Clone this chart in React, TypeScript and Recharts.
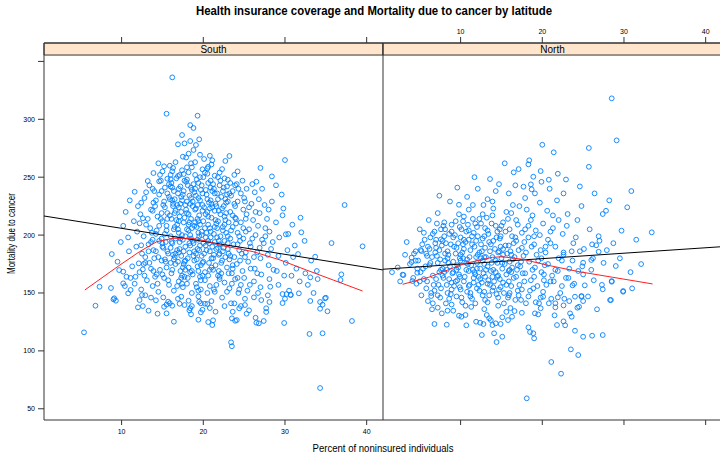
import {
  ReferenceArea,
  Scatter,
  ScatterChart,
  XAxis,
  YAxis,
} from 'recharts'

type Pt = [number, number]

const xTicks = [10, 20, 30, 40]
const yTicks = [50, 100, 150, 200, 250, 300, 350]
const X_DOMAIN: [number, number] = [0.5, 42]
// upper part of the y range is taken by the strip
const Y_DOMAIN: [number, number] = [40.3, 365.9]
const STRIP_FROM = 355.5

// South: scattered counties away from the main cloud
const southOuter: Pt[] = [
  [16.2, 336.2], [15.5, 304.8], [19.3, 303.1], [18.4, 295.0], [18.8, 292.5], [17.4, 286.4],
  [19.5, 282.7], [18.4, 281.2], [17.7, 279.2], [16.9, 278.4], [19.1, 277.8], [18.8, 273.5],
  [18.2, 270.3], [17.5, 267.7], [19.6, 269.4], [20.8, 268.5], [23.2, 268.3], [22.7, 264.0],
  [30.0, 264.8], [21.1, 264.6], [20.1, 265.7], [15.2, 259.4], [15.9, 259.9], [18.0, 258.5],
  [18.6, 258.5], [19.9, 256.8], [20.5, 257.6], [16.2, 255.1], [13.9, 253.6], [17.1, 251.9],
  [17.6, 252.7], [18.2, 254.2], [21.4, 251.3], [20.5, 253.0], [23.0, 247.8], [28.4, 250.7],
  [26.5, 246.1], [13.2, 246.7], [14.6, 246.4], [15.6, 248.7], [16.0, 248.2],
  [11.6, 237.4], [37.3, 226.0], [39.5, 190.3], [35.7, 193.1], [31.9, 215.0], [32.0, 202.4],
  [33.7, 181.3], [36.9, 166.1], [36.8, 161.2], [33.9, 169.0], [31.6, 183.6], [30.1, 200.7],
  [29.7, 217.1], [35.0, 145.9], [33.1, 163.5], [30.8, 164.9], [30.7, 148.2], [28.2, 155.4],
  [8.8, 183.6], [9.7, 169.8], [10.2, 168.4], [7.3, 155.4], [8.7, 154.3], [10.2, 158.3],
  [11.1, 152.6], [9.1, 145.4], [10.6, 164.0], [11.7, 164.0], [12.6, 170.4], [12.1, 175.6],
  [12.4, 191.2], [12.2, 210.2], [12.6, 214.5],
  [5.4, 116.0], [6.8, 139.0], [9.0, 144.5], [9.3, 143.3], [10.8, 149.7], [12.0, 137.6],
  [12.6, 138.7], [12.2, 143.9], [12.5, 148.2], [12.9, 148.0], [13.3, 134.7], [14.2, 143.7],
  [14.4, 132.1], [15.2, 138.1], [15.1, 146.2], [15.5, 132.4], [15.7, 142.5], [15.9, 141.1],
  [16.2, 139.0], [16.4, 125.2], [17.1, 140.7], [17.3, 146.8], [17.7, 139.6], [18.2, 143.3],
  [18.4, 136.8], [18.6, 138.7], [18.5, 131.6], [19.4, 126.9], [19.7, 141.1], [20.2, 140.7],
  [20.5, 140.5], [19.9, 135.5], [19.7, 133.3], [19.5, 142.5], [20.6, 124.9], [21.2, 126.4],
  [21.1, 122.3], [21.5, 133.8], [22.6, 138.7], [23.4, 141.1], [23.6, 133.8], [24.1, 126.6],
  [23.9, 126.0], [23.5, 128.1], [23.4, 107.4], [23.5, 104.0], [24.4, 136.8], [24.6, 138.7],
  [25.1, 139.6], [25.3, 132.1], [26.2, 146.2], [27.1, 143.9], [28.1, 142.2], [27.7, 136.8],
  [27.7, 133.6], [26.4, 128.6], [26.5, 124.3], [26.8, 123.8], [27.4, 125.8], [29.7, 141.3],
  [29.9, 124.1], [29.7, 149.1], [30.2, 149.1], [30.7, 148.5], [31.7, 149.7], [33.1, 143.1],
  [33.0, 114.6], [34.3, 142.2], [34.6, 139.9], [34.9, 145.4], [34.3, 136.4], [35.2, 134.2],
  [34.6, 115.2], [34.3, 67.9], [38.2, 125.8],
]

// South: main cloud
const southCore: Pt[] = [
  [13.4, 243], [14.8, 247], [15.3, 241], [16.1, 245], [16.7, 249], [17.2, 242], [17.9, 246],
  [18.5, 241], [19.2, 248], [19.8, 243], [20.6, 245], [21.3, 240], [22.1, 247], [22.9, 242],
  [24.1, 244], [25.3, 240], [16.4, 238], [18.9, 237], [21.7, 236], [23.6, 238],
  [12.8, 232], [13.9, 228], [14.6, 235], [15.2, 229], [15.8, 233], [16.3, 227], [16.9, 236],
  [17.4, 230], [17.8, 226], [18.3, 234], [18.7, 229], [19.4, 232], [19.9, 226], [20.4, 235],
  [20.9, 230], [21.5, 227], [22.2, 233], [22.8, 228], [23.4, 234], [24.2, 229], [25.0, 232],
  [25.9, 227], [26.8, 231], [27.5, 226], [14.1, 225], [17.0, 224], [19.1, 223], [21.1, 224],
  [23.9, 225], [28.4, 229],
  [12.3, 218], [13.2, 214], [13.8, 221], [14.4, 216], [15.0, 212], [15.6, 219], [16.1, 214],
  [16.6, 221], [17.1, 216], [17.6, 211], [18.0, 219], [18.5, 214], [19.0, 222], [19.5, 217],
  [20.0, 212], [20.5, 220], [21.0, 215], [21.6, 210], [22.1, 218], [22.7, 213], [23.3, 220],
  [23.9, 215], [24.6, 211], [25.3, 218], [26.1, 213], [26.9, 219], [27.8, 214], [28.9, 211],
  [15.3, 224], [18.2, 209], [20.8, 223], [24.9, 222], [11.5, 212],
  [11.9, 203], [12.7, 199], [13.5, 206], [14.2, 201], [14.9, 197], [15.5, 204], [16.0, 199],
  [16.5, 207], [17.0, 202], [17.5, 196], [18.0, 205], [18.4, 200], [18.9, 208], [19.3, 196],
  [19.8, 203], [20.3, 198], [20.8, 206], [21.3, 201], [21.9, 195], [22.4, 204], [23.0, 199],
  [23.6, 207], [24.2, 202], [24.9, 197], [25.6, 205], [26.4, 200], [27.2, 196], [28.1, 203],
  [29.3, 198], [30.4, 201], [16.8, 209], [19.6, 209], [22.6, 209], [14.6, 208], [10.8, 198],
  [10.9, 186], [11.8, 190], [12.5, 184], [13.3, 192], [13.9, 187], [14.5, 181], [15.1, 189],
  [15.7, 184], [16.2, 193], [16.8, 187], [17.3, 182], [17.8, 190], [18.3, 185], [18.8, 193],
  [19.3, 188], [19.8, 182], [20.3, 191], [20.8, 186], [21.4, 194], [21.9, 183], [22.5, 189],
  [23.1, 184], [23.7, 192], [24.4, 187], [25.1, 181], [25.8, 190], [26.6, 185], [27.4, 193],
  [28.3, 188], [29.2, 182], [30.3, 187], [31.2, 191], [15.4, 194], [18.1, 180], [21.2, 180],
  [11.3, 173], [12.2, 168], [12.9, 176], [13.6, 171], [14.3, 166], [14.9, 178], [15.5, 172],
  [16.1, 167], [16.6, 175], [17.2, 169], [17.7, 177], [18.2, 172], [18.7, 166], [19.2, 179],
  [19.7, 174], [20.2, 168], [20.7, 176], [21.2, 170], [21.8, 165], [22.3, 178], [22.9, 172],
  [23.5, 167], [24.1, 175], [24.8, 169], [25.5, 177], [26.3, 171], [27.1, 166], [28.0, 174],
  [29.0, 169], [30.1, 176], [31.4, 171], [32.5, 167], [16.4, 179], [19.9, 165], [23.2, 179],
  [11.6, 158], [12.4, 153], [13.1, 161], [13.8, 156], [14.5, 151], [15.2, 163], [15.8, 157],
  [16.4, 152], [17.0, 160], [17.5, 155], [18.1, 163], [18.6, 150], [19.1, 158], [19.7, 153],
  [20.2, 161], [20.8, 156], [21.4, 151], [22.0, 164], [22.6, 159], [23.2, 154], [23.9, 162],
  [24.6, 157], [25.4, 152], [26.2, 160], [27.0, 155], [28.1, 162], [29.2, 157], [30.5, 152],
  [31.8, 160], [14.1, 164], [17.7, 164], [20.5, 150], [24.3, 150],
  [16.2, 241], [17.6, 238], [18.8, 244], [19.7, 239], [20.9, 241], [22.4, 238], [15.9, 231],
  [17.3, 233], [18.4, 227], [19.6, 230], [20.7, 228], [21.8, 231], [22.9, 235], [16.5, 219],
  [17.9, 222], [19.3, 214], [20.3, 218], [21.4, 221], [22.6, 216], [16.9, 205], [18.3, 211],
  [19.4, 202], [20.6, 209], [21.7, 206], [23.1, 211], [17.1, 194], [18.5, 197], [19.6, 191],
  [20.9, 198], [22.0, 192], [23.3, 197], [16.3, 183], [17.6, 186], [18.9, 178], [20.1, 184],
  [21.6, 188], [22.7, 181], [17.8, 170], [19.3, 173], [20.6, 165], [21.9, 169],
  [15.0, 255], [17.4, 256], [20.2, 254], [21.8, 250], [23.8, 252], [19.0, 252], [16.0, 252],
  [24.8, 247], [26.0, 244], [13.0, 237], [27.2, 240], [29.6, 235], [28.0, 222], [29.8, 223],
  [30.9, 209], [27.6, 206], [32.4, 195], [33.2, 178], [31.0, 181], [29.9, 165], [32.8, 157],
  [34.0, 162], [33.5, 150], [11.0, 230], [10.5, 220], [12.0, 225], [10.2, 208], [9.9, 194],
  [9.5, 177], [11.1, 163], [10.4, 156], [13.6, 146], [16.9, 145], [19.4, 147], [22.3, 146],
  [25.1, 145], [27.9, 148], [30.0, 145], [15.5, 140], [21.0, 143], [23.8, 141], [18.3, 135],
  [20.8, 137], [25.6, 135],
  [14.0, 238], [15.6, 236], [17.0, 240], [18.1, 243], [19.4, 245], [20.3, 239], [21.2, 244],
  [22.5, 241], [23.3, 245], [24.6, 236], [13.6, 222], [14.9, 219], [16.3, 225], [17.3, 220],
  [18.7, 225], [19.9, 221], [21.0, 227], [22.3, 223], [23.6, 217], [25.6, 224], [13.0, 209],
  [14.3, 204], [15.5, 208], [16.7, 213], [17.8, 199], [19.0, 211], [20.2, 206], [21.5, 213],
  [22.8, 202], [24.0, 210], [25.2, 214], [26.7, 208], [13.8, 196], [15.0, 193], [16.0, 189],
  [17.2, 197], [18.4, 191], [19.5, 199], [20.7, 193], [21.7, 198], [23.0, 193], [24.5, 195],
  [26.0, 197], [28.5, 194], [12.9, 181], [14.2, 186], [15.3, 179], [16.6, 184], [17.8, 178],
  [18.9, 186], [20.0, 177], [21.3, 183], [22.4, 186], [23.8, 181], [25.2, 185], [27.0, 180],
  [13.4, 176], [14.7, 170], [16.0, 176], [17.4, 165], [18.6, 169], [19.7, 161], [21.0, 172],
  [22.2, 167], [23.6, 171], [25.0, 163], [26.6, 167], [28.6, 170], [12.8, 165], [14.4, 158],
  [15.7, 161], [16.8, 156], [18.0, 158], [19.4, 152], [21.6, 157], [22.9, 151], [24.4, 153],
  [26.7, 150], [16.5, 231], [19.1, 234], [21.4, 236], [23.0, 229], [17.7, 247], [20.0, 250],
  [14.2, 230], [26.3, 237], [28.9, 243], [27.0, 258], [24.2, 255], [21.0, 261], [22.3, 257],
  [16.6, 263], [14.5, 262], [19.0, 263],
]

// South: the crowded middle of the cloud
const southDense: Pt[] = [
  [14.7, 252], [15.8, 244], [16.9, 251], [18.0, 248], [19.6, 250], [20.9, 247], [22.6, 249],
  [23.9, 243], [14.9, 238], [16.0, 242], [17.5, 235], [18.6, 239], [19.9, 236], [21.1, 238],
  [22.0, 243], [23.2, 236], [24.3, 240], [15.1, 226], [16.2, 230], [17.2, 227], [18.5, 232],
  [19.3, 226], [20.5, 231], [21.6, 225], [22.7, 231], [23.8, 227], [14.8, 214], [15.9, 217],
  [17.0, 212], [18.2, 218], [19.4, 212], [20.6, 216], [21.8, 212], [22.8, 219], [24.0, 214],
  [15.3, 201], [16.4, 205], [17.4, 200], [18.6, 206], [19.8, 200], [20.9, 203], [22.1, 199],
  [23.4, 204], [24.4, 199], [15.0, 190], [16.1, 194], [17.1, 188], [18.3, 193], [19.5, 187],
  [20.6, 195], [21.8, 189], [23.0, 188], [24.2, 192], [15.4, 177], [16.5, 181], [17.6, 175],
  [18.8, 182], [19.9, 176], [21.0, 180], [22.2, 176], [23.3, 182], [24.5, 178], [15.0, 166],
  [16.2, 170], [17.3, 163], [18.4, 168], [19.6, 164], [20.8, 170], [22.0, 162], [23.1, 167],
  [24.2, 163], [16.8, 226], [18.0, 229], [20.1, 224], [21.9, 221], [17.7, 215], [19.2, 207],
  [20.4, 202], [22.4, 207], [16.6, 197], [18.7, 195], [21.1, 190], [22.6, 195], [17.0, 185],
  [19.1, 184], [20.4, 187], [22.0, 184], [17.5, 172], [19.4, 169], [21.5, 174], [23.6, 174],
  [15.6, 186], [14.6, 195], [13.7, 202], [13.3, 186], [12.7, 175], [24.9, 206], [25.7, 193],
  [26.2, 181], [25.8, 171], [26.9, 189], [27.6, 199], [27.9, 183], [16.3, 258], [18.5, 262],
  [20.6, 259], [17.9, 267], [22.0, 254], [13.8, 240], [12.4, 228], [25.1, 229], [26.4, 220],
  [25.2, 203], [15.6, 214], [13.6, 194], [14.0, 180], [16.9, 177], [18.2, 204], [20.0, 193],
  [21.4, 207], [22.5, 225], [19.0, 240], [24.7, 184], [17.4, 158], [19.2, 155], [21.3, 153],
  [23.5, 158], [25.7, 157], [13.9, 169],
]

// North: scattered counties away from the main cloud
const northOuter: Pt[] = [
  [28.5, 318.1], [29.1, 281.8], [20.0, 278.0], [21.4, 271.5], [25.7, 275.2], [18.4, 264.6],
  [18.3, 261.1], [16.5, 254.2], [19.8, 255.3], [18.9, 250.4], [20.8, 247.8], [13.6, 248.4],
  [17.7, 241.8], [18.6, 243.8], [18.7, 239.5],
  [30.4, 224.0], [27.4, 218.2], [27.8, 221.0], [29.7, 203.8], [33.4, 202.4], [24.8, 225.1],
  [23.1, 218.2], [27.0, 195.1], [26.6, 191.2], [26.9, 185.6], [25.0, 176.1], [26.0, 178.5],
  [29.0, 173.3], [28.5, 160.3], [31.0, 154.0], [29.9, 151.7], [28.3, 143.9], [26.7, 135.9],
  [24.0, 146.8], [22.7, 145.0], [24.5, 138.1], [24.8, 146.8], [2.9, 165.8], [4.0, 176.7],
  [4.5, 177.9], [5.1, 187.1], [5.2, 186.2], [8.1, 205.0], [7.6, 196.3], [9.8, 226.2],
  [4.1, 160.3], [4.7, 167.5], [4.0, 180.5],
  [18.1, 59.0], [22.3, 80.3], [21.1, 90.4], [24.4, 96.4], [23.5, 101.3], [27.4, 113.7],
  [26.1, 113.1], [25.0, 112.2], [24.0, 117.4], [22.8, 122.1], [22.6, 125.5], [21.8, 122.3],
  [19.0, 110.8], [18.9, 115.2], [18.5, 116.3], [18.3, 120.3], [14.4, 107.6], [15.1, 112.2],
  [14.1, 115.2], [13.9, 122.3], [13.7, 126.6], [14.3, 123.8], [14.9, 123.2], [12.6, 113.7],
  [10.7, 122.1], [8.3, 122.6], [6.8, 123.2], [9.8, 130.4], [10.1, 129.5], [11.9, 125.2],
  [12.4, 124.3], [12.8, 123.2], [13.5, 128.1], [8.4, 134.7], [9.1, 134.7], [7.7, 132.4],
  [7.2, 137.3], [6.5, 135.9], [6.6, 141.1], [6.4, 147.4], [3.0, 165.5], [15.8, 126.6],
  [16.3, 129.5], [15.6, 133.7], [16.6, 134.4], [17.5, 132.9], [18.0, 141.1], [19.1, 132.4],
  [19.5, 131.5], [19.8, 136.8], [19.6, 141.1], [20.1, 146.8], [21.5, 130.7], [21.6, 137.6],
  [21.9, 146.2], [20.8, 141.1], [21.6, 141.1], [23.4, 132.4], [23.6, 129.5], [24.3, 137.3],
  [22.6, 139.3], [25.0, 143.0], [24.8, 147.4], [28.4, 143.9], [27.4, 153.2], [29.9, 151.1],
  [28.5, 159.7], [25.2, 156.6], [23.7, 156.6],
  [15.4, 262], [17.1, 257], [21.9, 253], [22.9, 248], [24.6, 242], [26.4, 236], [14.3, 238],
  [19.9, 246], [11.7, 250], [9.6, 241], [7.4, 234], [25.7, 259], [30.9, 238], [28.2, 230],
]

// North: main cloud
const northCore: Pt[] = [
  [6.8, 203], [7.9, 208], [8.6, 201], [9.4, 212], [10.1, 205], [10.9, 209], [11.6, 202],
  [12.3, 214], [13.0, 206], [13.8, 210], [14.5, 203], [15.2, 211], [16.0, 205], [16.8, 213],
  [17.5, 202], [18.3, 208], [19.2, 204], [20.1, 210], [21.3, 206], [22.5, 201], [12.7, 218],
  [15.6, 220], [18.8, 217], [10.4, 216], [20.6, 221], [17.2, 225], [14.0, 223], [11.5, 226],
  [5.3, 192], [6.2, 188], [7.0, 196], [7.7, 191], [8.4, 186], [9.1, 198], [9.7, 193],
  [10.4, 188], [11.0, 196], [11.7, 190], [12.3, 185], [12.9, 199], [13.5, 194], [14.2, 188],
  [14.8, 197], [15.5, 191], [16.1, 186], [16.8, 195], [17.5, 189], [18.3, 198], [19.0, 192],
  [19.8, 187], [20.7, 196], [21.6, 190], [22.6, 185], [23.8, 193], [25.1, 188], [8.0, 199],
  [11.4, 199], [14.6, 185], [18.0, 185],
  [4.8, 178], [5.7, 173], [6.5, 181], [7.2, 176], [7.8, 171], [8.5, 183], [9.1, 177],
  [9.7, 172], [10.3, 180], [10.9, 175], [11.5, 170], [12.1, 183], [12.7, 178], [13.3, 173],
  [13.9, 181], [14.5, 176], [15.1, 171], [15.7, 184], [16.4, 179], [17.0, 174], [17.7, 182],
  [18.4, 177], [19.1, 172], [19.9, 180], [20.7, 175], [21.6, 170], [22.6, 183], [23.7, 178],
  [24.9, 173], [26.2, 180], [27.5, 176], [9.4, 184], [12.4, 171], [16.0, 170],
  [4.2, 163], [5.1, 168], [5.9, 160], [6.6, 165], [7.3, 157], [8.0, 168], [8.6, 162],
  [9.2, 156], [9.8, 166], [10.4, 160], [11.0, 169], [11.6, 163], [12.2, 157], [12.8, 167],
  [13.4, 161], [14.0, 155], [14.6, 165], [15.2, 159], [15.9, 169], [16.5, 163], [17.2, 157],
  [17.9, 167], [18.6, 161], [19.4, 156], [20.2, 166], [21.0, 160], [21.9, 169], [22.9, 163],
  [23.9, 158], [25.0, 166], [26.3, 161], [7.6, 170], [10.7, 170], [13.7, 169],
  [5.2, 148], [6.0, 143], [6.8, 152], [7.5, 146], [8.2, 141], [8.9, 153], [9.5, 147],
  [10.2, 142], [10.8, 151], [11.4, 145], [12.0, 154], [12.7, 148], [13.3, 142], [13.9, 152],
  [14.6, 146], [15.3, 141], [16.0, 150], [16.7, 144], [17.5, 153], [18.3, 147], [19.2, 142],
  [20.1, 151], [21.1, 145], [22.2, 150], [23.3, 143], [9.9, 155], [14.9, 155], [18.9, 154],
  [7.4, 187], [8.8, 192], [10.0, 183], [11.2, 187], [12.5, 192], [13.6, 186], [14.9, 190],
  [16.2, 183], [8.1, 178], [9.6, 174], [10.8, 179], [12.0, 176], [13.1, 181], [14.3, 178],
  [15.4, 175], [16.6, 181], [7.9, 163], [9.0, 167], [10.5, 164], [11.8, 166], [13.0, 164],
  [14.3, 168], [15.6, 166], [16.9, 170], [9.3, 200], [10.7, 203], [12.0, 207], [13.4, 201],
  [14.8, 205], [16.3, 199], [11.1, 157], [12.6, 159], [14.1, 160],
  [8.7, 229], [10.8, 233], [13.3, 231], [15.9, 236], [17.9, 232], [19.7, 228], [21.8, 230],
  [12.1, 240], [14.7, 244], [22.6, 236], [24.3, 213], [25.8, 205], [26.9, 199], [24.1, 198],
  [22.0, 213], [6.1, 213], [5.0, 205], [3.4, 194], [2.3, 172], [1.6, 168], [3.2, 183],
  [2.6, 160], [20.9, 240], [19.1, 236], [16.7, 243],
  [8.9, 140], [11.3, 138], [12.9, 136], [14.6, 139], [16.1, 137], [17.4, 144], [10.6, 131],
  [13.2, 131], [15.1, 129], [27.9, 187], [29.5, 180], [30.8, 168], [32.1, 175], [28.7, 193],
  [31.5, 196], [26.0, 170], [27.3, 157], [25.6, 147],
  [6.3, 198], [7.6, 205], [8.9, 209], [10.3, 212], [11.8, 210], [13.2, 215], [14.3, 208],
  [15.8, 214], [17.0, 209], [18.6, 213], [19.7, 200], [21.0, 203], [5.8, 184], [6.9, 185],
  [8.2, 193], [9.5, 189], [10.6, 194], [11.9, 181], [13.0, 189], [14.0, 195], [15.2, 183],
  [16.5, 193], [17.8, 194], [19.3, 183], [20.4, 190], [22.0, 180], [5.4, 171], [6.3, 176],
  [7.5, 179], [8.7, 173], [10.0, 178], [11.3, 174], [12.5, 180], [13.8, 176], [15.0, 180],
  [16.3, 172], [17.4, 177], [18.8, 170], [20.3, 174], [21.2, 165], [23.3, 171], [4.6, 158],
  [5.8, 154], [7.0, 162], [8.3, 157], [9.6, 161], [11.2, 150], [12.4, 162], [13.6, 157],
  [14.8, 162], [16.2, 156], [17.8, 160], [19.0, 164], [20.5, 157], [22.4, 156], [7.2, 148],
  [8.6, 145], [10.1, 146], [11.8, 141], [12.9, 151], [14.4, 149], [15.8, 146], [17.1, 148],
  [19.8, 146], [6.0, 190], [4.5, 186], [9.8, 218], [11.0, 222], [13.9, 229], [16.4, 226],
  [18.1, 222], [7.2, 219], [12.8, 226], [21.3, 217], [23.0, 208], [24.6, 186], [26.1, 192],
  [23.2, 163], [24.4, 169], [10.4, 196], [12.7, 197], [14.9, 199], [8.4, 180], [9.1, 168],
  [11.6, 159], [13.1, 170], [15.9, 160],
]

// North: the crowded middle of the cloud
const northDense: Pt[] = [
  [5.6, 196], [6.6, 201], [7.8, 195], [8.9, 203], [10.0, 198], [11.0, 204], [12.1, 199],
  [13.3, 204], [14.4, 198], [15.5, 203], [16.7, 198], [5.9, 182], [7.0, 189], [8.1, 184],
  [9.2, 190], [10.2, 185], [11.4, 192], [12.6, 186], [13.7, 192], [14.7, 186], [15.9, 191],
  [17.1, 187], [6.2, 174], [7.4, 168], [8.5, 176], [9.5, 170], [10.7, 176], [11.7, 168],
  [12.9, 175], [14.0, 170], [15.1, 176], [16.2, 168], [17.3, 173], [5.5, 162], [6.7, 157],
  [7.8, 165], [8.9, 159], [9.9, 164], [11.0, 156], [12.2, 164], [13.3, 158], [14.5, 164],
  [15.6, 157], [16.8, 164], [6.4, 150], [7.6, 154], [8.8, 149], [10.0, 153], [11.2, 147],
  [12.3, 152], [13.5, 148], [14.7, 153], [15.9, 148], [17.0, 152], [7.1, 182], [9.9, 180],
  [12.9, 181], [15.2, 188], [8.3, 170], [11.1, 181], [13.9, 164], [16.0, 177], [9.4, 160],
  [12.0, 171], [6.9, 193], [9.9, 207], [12.5, 210], [15.0, 208], [17.9, 205], [18.7, 190],
  [19.5, 178], [19.9, 168], [18.5, 152], [20.4, 185], [4.7, 171], [4.3, 184], [3.8, 175],
  [5.0, 160], [10.3, 192], [11.9, 195], [8.0, 211], [13.9, 217], [16.2, 219], [19.0, 199],
  [21.0, 193], [22.4, 178], [21.4, 160], [23.6, 186], [7.1, 210], [11.5, 214], [5.5, 202],
  [17.6, 167], [15.3, 150], [10.6, 139], [13.0, 144], [8.4, 150], [20.2, 161],
]

// fitted lines: least squares (black) and loess (red)
const southLm: Pt[] = [[0.5, 216.5], [42, 169.9]]
const northLm: Pt[] = [[0.5, 170.5], [42, 190.0]]
const southLoess: Pt[] = [
  [5.5, 152.6], [9.8, 174.2], [12.2, 185.7], [14.3, 194.3], [16.3, 197.2], [18.6, 197.2],
  [20.4, 194.9], [22.0, 191.4], [26.1, 185.7], [29.4, 178.5], [32.6, 169.9], [35.9, 161.2],
  [39.5, 151.7],
]
const northLoess: Pt[] = [
  [2.9, 157.5], [6.1, 163.6], [10.6, 175.6], [13.9, 180.8], [15.1, 181.3], [17.6, 179.1],
  [20.5, 174.2], [24.5, 168.4], [28.6, 163.6], [33.5, 157.8],
]

const toXY = (pts: Pt[]) => pts.map(([x, y]) => ({ x, y }))

const FONT = '"Liberation Sans", Arial, Helvetica, sans-serif'
const AXIS = '#333'

const Ring = (props: any) => {
  const { cx, cy } = props
  if (cx == null || cy == null) return <g />
  return <circle cx={cx} cy={cy} r={2.4} fill="none" stroke="#0080ff" strokeWidth={0.9} />
}
const NoDot = () => <g />

const LeftTick = ({ x, y, payload }: any) =>
  payload.value === 350 ? (
    <g />
  ) : (
    <text x={x} y={y} dy={2.5} textAnchor="end" fontSize={7} fill="#000">
      {payload.value}
    </text>
  )
const BottomTick = ({ x, y, payload }: any) => (
  <text x={x} y={y} dy={5.5} textAnchor="middle" fontSize={7} fill="#000">
    {payload.value}
  </text>
)
const TopTick = ({ x, y, payload }: any) => (
  <text x={x} y={y} textAnchor="middle" fontSize={7} fill="#000">
    {payload.value}
  </text>
)
const Blank = () => <g />

interface PanelProps {
  name: string
  groups: Pt[][]
  lm: Pt[]
  loess: Pt[]
  left: number
  labelsBelow: boolean
}

// axes need a non-zero box to be drawn, so each gets 1px taken back from the margin
const Panel = ({ name, groups, lm, loess, left, labelsBelow }: PanelProps) => (
  <div style={{ position: 'absolute', left: 0, top: 0 }}>
    <ScatterChart
      width={left + 339}
      height={454}
      margin={{ top: 42, right: 0, bottom: 33, left: left - 1 }}>
      <XAxis
        xAxisId="b"
        dataKey="x"
        type="number"
        domain={X_DOMAIN}
        ticks={xTicks}
        allowDataOverflow
        height={1}
        tickSize={5}
        tickMargin={3}
        stroke={AXIS}
        tick={labelsBelow ? BottomTick : Blank}
      />
      <XAxis
        xAxisId="t"
        dataKey="x"
        type="number"
        orientation="top"
        domain={X_DOMAIN}
        ticks={xTicks}
        allowDataOverflow
        height={1}
        tickSize={6}
        tickMargin={3}
        stroke={AXIS}
        tick={labelsBelow ? Blank : TopTick}
      />
      <YAxis
        dataKey="y"
        type="number"
        domain={Y_DOMAIN}
        ticks={yTicks}
        allowDataOverflow
        width={1}
        tickSize={6}
        tickMargin={3}
        stroke={AXIS}
        tickLine={labelsBelow}
        tick={labelsBelow ? LeftTick : Blank}
      />
      <ReferenceArea
        xAxisId="b"
        x1={X_DOMAIN[0]}
        x2={X_DOMAIN[1]}
        y1={STRIP_FROM}
        y2={Y_DOMAIN[1]}
        fill="#ffe5cc"
        fillOpacity={1}
        stroke={AXIS}
        label={{ value: name, position: 'center', fontSize: 10, fill: '#000' }}
      />
      {groups.map((g, i) => (
        <Scatter key={i} xAxisId="b" data={toXY(g)} shape={Ring} isAnimationActive={false} />
      ))}
      <Scatter
        xAxisId="t"
        data={toXY(lm)}
        line={{ stroke: '#000', strokeWidth: 1 }}
        shape={NoDot}
        isAnimationActive={false}
      />
      <Scatter
        xAxisId="t"
        data={toXY(loess)}
        line={{ stroke: '#ff2020', strokeWidth: 1 }}
        shape={NoDot}
        isAnimationActive={false}
      />
    </ScatterChart>
  </div>
)

export default function App() {
  return (
    <div
      style={{
        position: 'relative',
        width: 720,
        height: 454,
        overflow: 'hidden',
        background: '#fff',
        fontFamily: FONT,
      }}>
      <style>{'body{margin:0}'}</style>
      <Panel
        name="South"
        groups={[southOuter, southCore, southDense]}
        lm={southLm}
        loess={southLoess}
        left={44}
        labelsBelow
      />
      <Panel
        name="North"
        groups={[northOuter, northCore, northDense]}
        lm={northLm}
        loess={northLoess}
        left={383}
        labelsBelow={false}
      />
      <svg
        width={720}
        height={454}
        style={{ position: 'absolute', left: 0, top: 0, pointerEvents: 'none' }}>
        <text
          x={374}
          y={14.5}
          textAnchor="middle"
          fontSize={12}
          fontWeight="bold"
          textLength={356}
          lengthAdjust="spacingAndGlyphs">
          Health insurance coverage and Mortality due to cancer by latitude
        </text>
        <text
          x={383}
          y={451.5}
          textAnchor="middle"
          fontSize={10}
          textLength={141}
          lengthAdjust="spacingAndGlyphs">
          Percent of noninsured individuals
        </text>
        <text
          x={0}
          y={0}
          transform="translate(15,233.5) rotate(-90)"
          textAnchor="middle"
          fontSize={10}
          textLength={81}
          lengthAdjust="spacingAndGlyphs">
          Mortality due to cancer
        </text>
      </svg>
    </div>
  )
}
